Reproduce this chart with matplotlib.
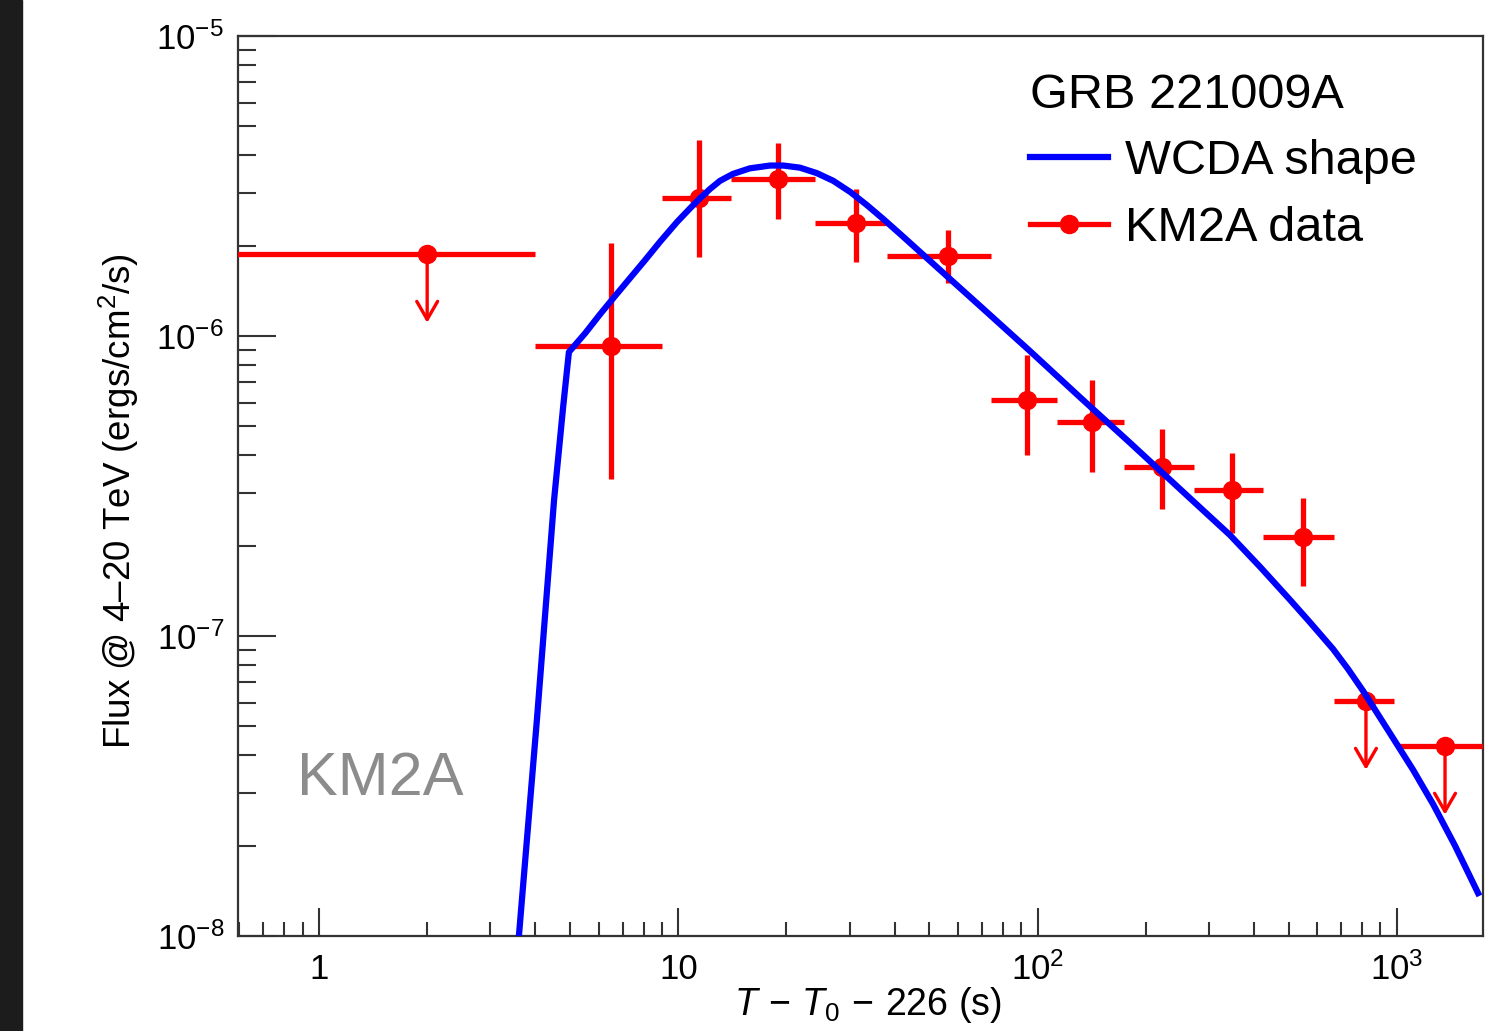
import matplotlib
matplotlib.use("Agg")
import matplotlib.pyplot as plt
import numpy as np
from matplotlib.lines import Line2D
from matplotlib.patches import Rectangle
from matplotlib.ticker import FixedLocator, LogLocator, NullFormatter

plt.rcParams['font.family'] = ['Liberation Sans', 'DejaVu Sans']
plt.rcParams['mathtext.fontset'] = 'custom'
plt.rcParams['mathtext.rm'] = 'Liberation Sans'
plt.rcParams['mathtext.it'] = 'Liberation Sans:italic'

# WCDA light-curve shape
wcda_t = [3.60, 4.04, 4.51, 4.78, 4.96, 5.50, 6.05, 6.67, 7.34, 8.08, 8.89, 9.92,
          10.8, 11.5, 12.25, 13.06, 14.2, 15.8, 18.0, 19.6, 21.8, 24.3, 27.0, 30.1,
          33.5, 37.1, 41.4, 53.5, 69.1, 95.2, 131, 181, 249, 343, 416, 504, 573,
          664, 731, 805, 975, 1109, 1261, 1451, 1682]
wcda_flux = [1.0e-8, 5.25e-8, 2.84e-7, 5.80e-7, 8.84e-7, 1.02e-6, 1.18e-6, 1.36e-6,
             1.56e-6, 1.79e-6, 2.06e-6, 2.40e-6, 2.67e-6, 2.88e-6, 3.09e-6, 3.29e-6,
             3.47e-6, 3.62e-6, 3.70e-6, 3.70e-6, 3.64e-6, 3.49e-6, 3.29e-6, 3.02e-6,
             2.73e-6, 2.46e-6, 2.19e-6, 1.66e-6, 1.26e-6, 8.91e-7, 6.26e-7, 4.40e-7,
             3.09e-7, 2.17e-7, 1.70e-7, 1.32e-7, 1.11e-7, 9.05e-8, 7.76e-8, 6.56e-8,
             4.57e-8, 3.58e-8, 2.75e-8, 2.00e-8, 1.39e-8]

# KM2A detected points
km2a_t = [6.50, 11.4, 19.0, 31.2, 56.3, 93.4, 142, 222, 348, 548]
km2a_tlo = [4.0, 9.0, 14.0, 24.0, 38.0, 74.0, 113, 174, 272, 424]
km2a_thi = [9.0, 14.0, 24.0, 38.0, 74.0, 113, 174, 272, 424, 668]
km2a_flux = [9.26e-7, 2.88e-6, 3.34e-6, 2.38e-6, 1.85e-6, 6.12e-7, 5.17e-7, 3.66e-7,
             3.07e-7, 2.14e-7]
km2a_fhi = [2.04e-6, 4.50e-6, 4.40e-6, 3.09e-6, 2.26e-6, 8.64e-7, 7.13e-7, 4.90e-7,
            4.07e-7, 2.88e-7]
km2a_flo = [3.34e-7, 1.83e-6, 2.46e-6, 1.77e-6, 1.50e-6, 4.01e-7, 3.52e-7, 2.65e-7,
            2.20e-7, 1.47e-7]

# KM2A upper limits
ul_t = [2.0, 820, 1361]
ul_tlo = [0.3, 668, 1000]
ul_thi = [4.0, 980, 2500]
ul_flux = [1.876e-6, 6.07e-8, 4.30e-8]

fig = plt.figure(figsize=(14.87, 10.31), dpi=100)
fig.patches.append(Rectangle((0, 0), 22 / 1487, 1, transform=fig.transFigure,
                             color='#1c1c1c', zorder=-10))
ax = fig.add_axes([238 / 1487, 95 / 1031, 1245 / 1487, 900 / 1031])
ax.set_xscale('log')
ax.set_yscale('log')
ax.set_xlim(0.595, 1736)
ax.set_ylim(1e-8, 1e-5)

ax.plot(wcda_t, wcda_flux, color='#0000ff', lw=4.5, zorder=5,
        solid_joinstyle='round')

t = np.array(km2a_t)
f = np.array(km2a_flux)
ax.errorbar(t, f,
            xerr=[t - np.array(km2a_tlo), np.array(km2a_thi) - t],
            yerr=[f - np.array(km2a_flo), np.array(km2a_fhi) - f],
            fmt='o', color='#ff0000', ms=13, elinewidth=3.8, capsize=0, zorder=3)

ut = np.array(ul_t)
uf = np.array(ul_flux)
ax.errorbar(ut, uf, xerr=[ut - np.array(ul_tlo), np.array(ul_thi) - ut],
            fmt='o', color='#ff0000', ms=13, elinewidth=3.8, capsize=0, zorder=3)
for xi, yi in zip(ul_t, ul_flux):
    ax.annotate('', xy=(xi, yi * 0.59), xytext=(xi, yi),
                arrowprops=dict(arrowstyle='->,head_length=1.3,head_width=0.75',
                                color='#ff0000', lw=2.4, shrinkA=0, shrinkB=0),
                zorder=3)

# ticks
ax.xaxis.set_major_locator(FixedLocator([1, 10, 100, 1000]))
ax.set_xticklabels(['1', '10', '$10^{2}$', '$10^{3}$'])
ax.xaxis.set_minor_locator(LogLocator(base=10, subs=np.arange(2, 10), numticks=20))
ax.xaxis.set_minor_formatter(NullFormatter())
ax.yaxis.set_major_locator(FixedLocator([1e-8, 1e-7, 1e-6, 1e-5]))
ax.set_yticklabels(['$10^{-8}$', '$10^{-7}$', '$10^{-6}$', '$10^{-5}$'])
ax.yaxis.set_minor_locator(LogLocator(base=10, subs=np.arange(2, 10), numticks=20))
ax.yaxis.set_minor_formatter(NullFormatter())

ax.tick_params(axis='both', which='both', direction='in', top=False, right=False,
               width=1.5, colors='#333333', labelcolor='black', labelsize=25)
ax.tick_params(axis='x', which='major', length=20, pad=12)
ax.tick_params(axis='x', which='minor', length=10)
ax.tick_params(axis='y', which='major', length=27, pad=10)
ax.tick_params(axis='y', which='minor', length=13)
for s in ax.spines.values():
    s.set_linewidth(1.6)
    s.set_color('#333333')

ax.set_xlabel(r'$T\,-\,T_{0}\,-\,226$ (s)', fontsize=27)
ax.xaxis.set_label_coords(0.506, -0.0767)
ax.xaxis.label.set_va('center')
ax.set_ylabel('Flux @ 4–20 TeV (ergs/cm$^{2}$/s)', fontsize=26.5)
ax.yaxis.set_label_coords(-0.078, 0.483)

ax.text(0.047, 0.157, 'KM2A', transform=ax.transAxes, fontsize=44,
        color='#8c8c8c', va='baseline', ha='left')

handles = [Line2D([], [], color='#0000ff', lw=4.5),
           Line2D([], [], color='#ff0000', lw=3.8, marker='o', ms=13)]
leg = ax.legend(handles, ['WCDA shape', 'KM2A data'], title='GRB 221009A',
                loc='upper left', bbox_to_anchor=(0.636, 0.959), frameon=False,
                fontsize=35, title_fontsize=35, alignment='left',
                handlelength=1.6, handletextpad=0.35, labelspacing=0.44,
                borderpad=0, borderaxespad=0)

fig.savefig('out.png', dpi=100)
